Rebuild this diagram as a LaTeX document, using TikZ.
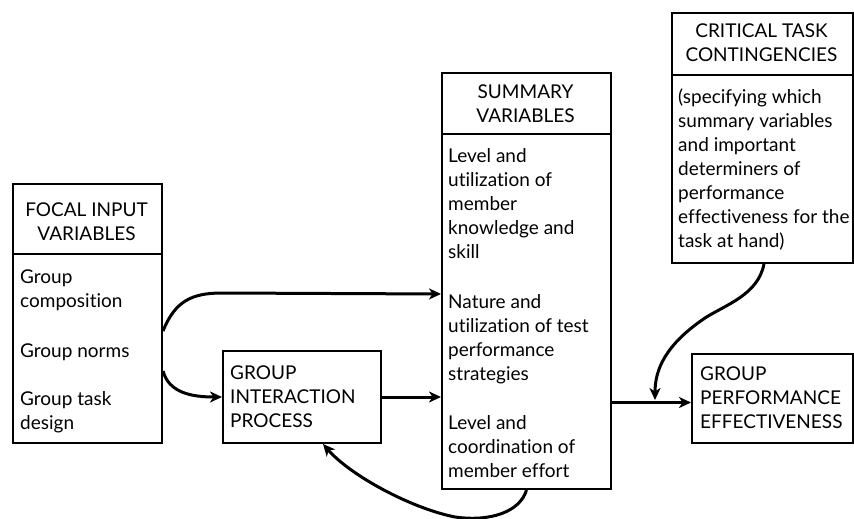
\documentclass[tikz,border=0pt]{standalone}
\usepackage{fontspec}
\setmainfont{Lato}[Ligatures={NoCommon,NoContextual}]
\usetikzlibrary{arrows.meta,calc}
\begin{document}
\begin{tikzpicture}[x=1pt,y=-1pt,
  box/.style={draw,line width=2pt,inner sep=0pt,anchor=north west},
  divider/.style={line width=2pt},
  head/.style={anchor=base,align=center,inner sep=0pt,font=\fontsize{19}{24}\selectfont},
  body/.style={anchor=base west,align=left,inner sep=0pt,font=\fontsize{19}{24}\selectfont},
  flow/.style={line width=3pt,-{Stealth[length=12pt,width=11pt,inset=3.5pt]}}]
\useasboundingbox (0,0) rectangle (854,519);

% boxes
\node[box,minimum width=149pt,minimum height=259pt] (focal) at (12,183) {};
\node[box,minimum width=158pt,minimum height=92pt] (inter) at (222,350) {};
\node[box,minimum width=169pt,minimum height=416pt] (summ) at (441,72) {};
\node[box,minimum width=181pt,minimum height=250pt] (crit) at (671,12) {};
\node[box,minimum width=161pt,minimum height=89pt] (gpe) at (691,353) {};

% header rules
\draw[divider] ($(focal.north west)+(0,71)$) -- ($(focal.north east)+(0,71)$);
\draw[divider] ($(summ.north west)+(0,62)$) -- ($(summ.north east)+(0,62)$);
\draw[divider] ($(crit.north west)+(0,63)$) -- ($(crit.north east)+(0,63)$);

% focal input variables (base anchor sits on the last line)
\node[head] (focalhead) at (86.5,240) {FOCAL INPUT\\VARIABLES};
\node[body] (fi1) at (20,307) {Group\\composition};
\node[body] (fi2) at (20,357) {Group norms};
\node[body] (fi3) at (20,429) {Group task\\design};

% group interaction process
\node[body] (intertext) at (230,427) {GROUP\\INTERACTION\\PROCESS};

% summary variables
\node[head] (summhead) at (525.5,122) {SUMMARY\\VARIABLES};
\node[body] (sv1) at (448,258) {Level and\\utilization of\\member\\knowledge and\\skill};
\node[body] (sv2) at (448,380) {Nature and\\utilization of test\\performance\\strategies};
\node[body] (sv3) at (448,477) {Level and\\coordination of\\member effort};

% critical task contingencies
\node[head] (crithead) at (761.5,62) {CRITICAL TASK\\CONTINGENCIES};
\node[body] (ct) at (678,247) {(specifying which\\summary variables\\and important\\determiners of\\performance\\effectiveness for the\\task at hand)};

% group performance effectiveness
\node[body] (gpetext) at (700,428) {GROUP\\PERFORMANCE\\EFFECTIVENESS};

% connectors
\coordinate (join) at (655,400);
\draw[flow] ([yshift=-17.5pt]focal.east) .. controls +(12,-30) and +(-30,0) .. (222,293) -- ([yshift=-13pt]summ.west);
\draw[flow] ([yshift=-57.5pt]focal.east) .. controls +(6,22) and +(-30,0) .. (inter.west);
\draw[flow] (inter.east) -- (inter.east -| summ.west);
\draw[flow] ([yshift=-4pt]gpe.west -| summ.east) -- ([yshift=-4pt]gpe.west);
\draw[flow] ([xshift=1.5pt]crit.south) .. controls (758,295) and (725,305) .. (705,318)
  .. controls (665,345) and (655,370) .. (join);
\draw[flow] (summ.south) .. controls (520,512) and (490,522) .. (455,517)
  .. controls (410,508) and (350,475) .. ([xshift=21pt]inter.south);
\end{tikzpicture}
\end{document}
